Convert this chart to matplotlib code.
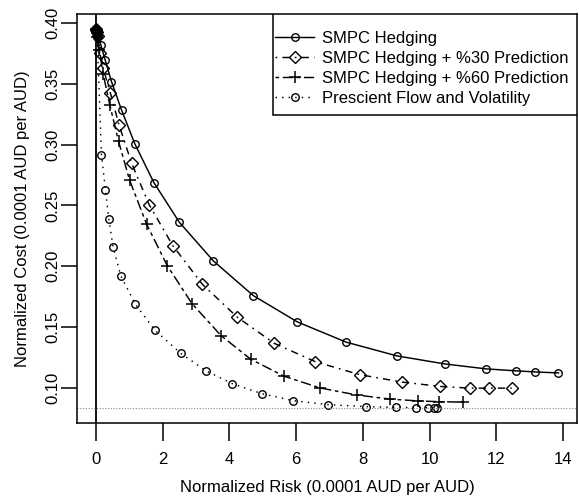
import matplotlib
matplotlib.use("Agg")
import matplotlib.pyplot as plt
from matplotlib.patches import Rectangle

plt.rcParams['font.family'] = ['Liberation Sans', 'DejaVu Sans']

# ---- data ----
smpc_x = [0.00, 0.01, 0.03, 0.07, 0.15, 0.28, 0.47, 0.77, 1.17, 1.74, 2.50, 3.52,
          4.72, 6.04, 7.50, 9.02, 10.45, 11.70, 12.60, 13.17, 13.86]
smpc_y = [0.3948, 0.3942, 0.3930, 0.3898, 0.3820, 0.3695, 0.3517, 0.3284, 0.3005,
          0.2687, 0.2362, 0.2044, 0.1758, 0.1542, 0.1376, 0.1263, 0.1197, 0.1156,
          0.1140, 0.1131, 0.1123]

p30_x = [0.00, 0.01, 0.03, 0.06, 0.12, 0.22, 0.44, 0.70, 1.07, 1.60, 2.31, 3.19,
         4.23, 5.34, 6.57, 7.90, 9.17, 10.32, 11.20, 11.78, 12.46]
p30_y = [0.3948, 0.3940, 0.3925, 0.3890, 0.3750, 0.3627, 0.3420, 0.3157, 0.2849,
         0.2504, 0.2168, 0.1852, 0.1583, 0.1367, 0.1216, 0.1109, 0.1048, 0.1012,
         0.0998, 0.0998, 0.0998]

p60_x = [0.00, 0.01, 0.03, 0.05, 0.10, 0.22, 0.42, 0.68, 1.01, 1.52, 2.14, 2.88,
         3.75, 4.64, 5.64, 6.71, 7.81, 8.82, 9.65, 10.27, 10.99]
p60_y = [0.3948, 0.3938, 0.3920, 0.3880, 0.3777, 0.3580, 0.3325, 0.3028, 0.2709,
         0.2346, 0.2005, 0.1693, 0.1430, 0.1236, 0.1096, 0.1000, 0.0942, 0.0908,
         0.0893, 0.0887, 0.0883]

presc_x = [0.00, 0.01, 0.02, 0.04, 0.17, 0.29, 0.39, 0.52, 0.75, 1.18, 1.76, 2.54,
           3.29, 4.09, 4.97, 5.90, 6.97, 8.09, 8.99, 9.59, 9.95, 10.12, 10.22]
presc_y = [0.3948, 0.3935, 0.3915, 0.3880, 0.2915, 0.2623, 0.2386, 0.2156, 0.1920,
           0.1690, 0.1477, 0.1285, 0.1142, 0.1035, 0.0953, 0.0896, 0.0862, 0.0846,
           0.0840, 0.0838, 0.0837, 0.0836, 0.0836]

labels = ["SMPC Hedging", "SMPC Hedging + %30 Prediction",
          "SMPC Hedging + %60 Prediction", "Prescient Flow and Volatility"]
x_ticks = [0, 2, 4, 6, 8, 10, 12, 14]
y_ticks = [0.10, 0.15, 0.20, 0.25, 0.30, 0.35, 0.40]

fig = plt.figure(figsize=(5.79, 5.00), dpi=100)
ax = fig.add_axes([0.1335, 0.154, 0.8630, 0.818])

lw = 1.05
ax.plot(smpc_x, smpc_y, color='black', lw=lw, ls='-', marker='o', ms=5.4,
        mfc='none', mec='black', mew=1.0, label=labels[0])
ax.plot(p30_x, p30_y, color='black', lw=lw, ls=(0, (1.2, 3.5, 5, 3.5)), marker='D', ms=5.8,
        mfc='none', mec='black', mew=1.0, label=labels[1])
ax.plot(p60_x, p60_y, color='black', lw=lw, ls=(0, (2.5, 2.5, 7, 2.5)), marker='+', ms=8.5,
        mfc='none', mec='black', mew=1.1, label=labels[2])
ax.plot(presc_x, presc_y, color='black', lw=lw, ls=(0, (1, 3.5)), marker='o', ms=5.4,
        mfc='none', mec='black', mew=1.0, label=labels[3])

ax.axvline(0, color='black', lw=1.3)
ax.axhline(min(presc_y), color='#888888', lw=0.8, ls=(0, (1, 1.5)))

xmin, xmax = 0.0, max(smpc_x)
ymin, ymax = min(presc_y), max(smpc_y)
xp = 0.04 * (xmax - xmin)
yp = 0.04 * (ymax - ymin)
ax.set_xlim(xmin - xp, xmax + xp)
ax.set_ylim(ymin - yp, ymax + yp)

ax.set_xticks(x_ticks)
ax.set_xticklabels([str(t) for t in x_ticks])
ax.set_yticks(y_ticks)
ax.set_yticklabels([f"{t:.2f}" for t in y_ticks], rotation=90, va='center')

ax.tick_params(axis='x', direction='out', length=13, width=1.1, labelsize=12, pad=8)
ax.tick_params(axis='y', direction='out', length=11.5, width=1.1, labelsize=12, pad=1)
for s in ax.spines.values():
    s.set_linewidth(1.1)

ax.set_xlabel("Normalized Risk (0.0001 AUD per AUD)", fontsize=12, labelpad=9)
ax.set_ylabel("Normalized Cost (0.0001 AUD per AUD)", fontsize=12, labelpad=11)

# legend: R-style box drawn separately, entries placed inside
ax.add_patch(Rectangle((0.3916, 0.7531), 0.6084, 0.2469, transform=ax.transAxes,
                       facecolor='white', edgecolor='black', lw=1.1, zorder=5))
leg = ax.legend(loc='upper left', bbox_to_anchor=(0.3956, 0.958), borderaxespad=0,
                frameon=False, fontsize=12, handlelength=2.35,
                handletextpad=0.45, labelspacing=0.3, borderpad=0.0)
leg.set_zorder(6)

fig.savefig("out.png", dpi=100)
